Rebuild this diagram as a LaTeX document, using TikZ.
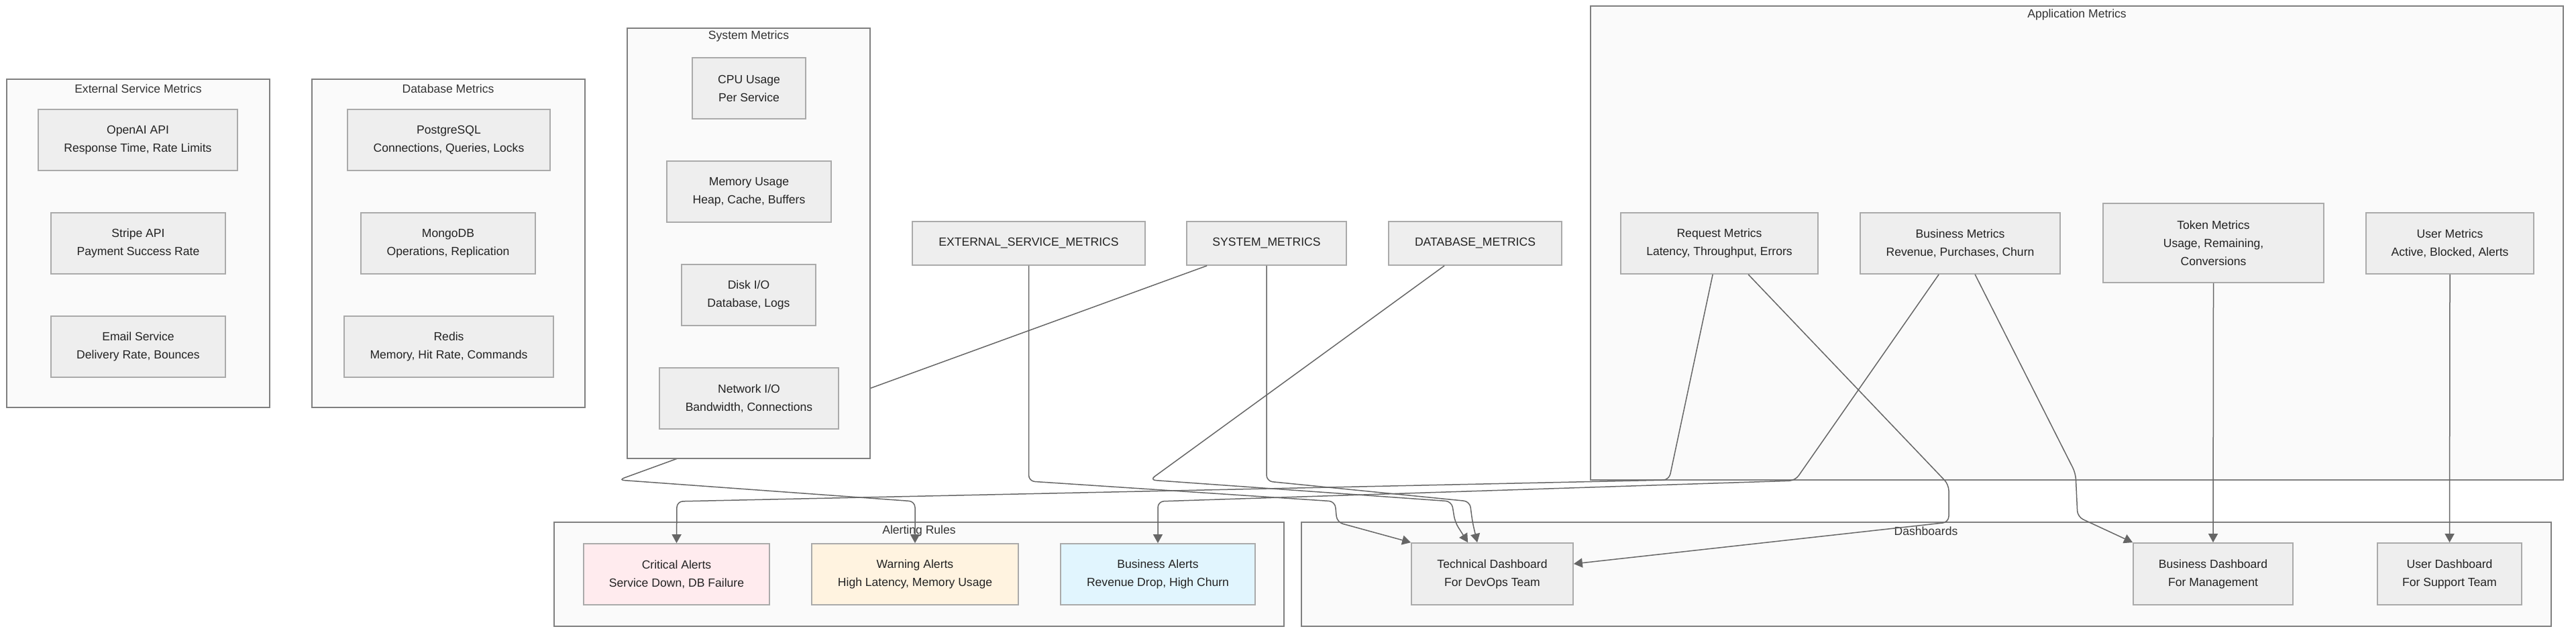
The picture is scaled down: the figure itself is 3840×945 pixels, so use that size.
\documentclass[tikz,border=0pt]{standalone}
\usepackage{fontspec}
\setmainfont{Liberation Sans}
\usetikzlibrary{arrows.meta,calc}
\definecolor{nodefill}{HTML}{EEEEEE}
\definecolor{nodeline}{HTML}{AAAAAA}
\definecolor{clfill}{HTML}{FAFAFA}
\definecolor{clline}{HTML}{7F7F7F}
\definecolor{edgec}{HTML}{666666}
\definecolor{txt}{HTML}{222222}
\definecolor{ttltxt}{HTML}{333333}
\definecolor{critfill}{HTML}{FFEBEE}
\definecolor{warnfill}{HTML}{FFF3E0}
\definecolor{busfill}{HTML}{E1F5FE}
\newcommand\bx[7]{\node[#6, minimum width={(#4-#2)*0.2mm}, minimum height={(#5-#3)*0.2mm}] (#1) at ({(#2+#4)/2},{(#3+#5)/2}) {#7};}
\begin{document}
\begin{tikzpicture}[x=0.2mm,y=-0.2mm, font=\fontsize{10}{15.4}\selectfont,
 nd/.style={draw=nodeline, fill=nodefill, line width=0.35mm, align=center, text=txt, inner sep=0pt},
 cl/.style={draw=clline, fill=clfill, line width=0.35mm, inner sep=0pt},
 ttl/.style={text=ttltxt, inner sep=0pt},
 edge/.style={draw=edgec, line width=0.3mm, rounded corners=1.8mm},
 arr/.style={-{Triangle[length=2.6mm,width=2.8mm]}, fill=none}]
\fill[white] (0,0) rectangle (3840,945);
\useasboundingbox (0,0) rectangle (3840,945);

% clusters (except System Metrics)
\bx{cExt}{10}{118}{402}{607}{cl}{}
\node[ttl] (tExt) at (206,132) {External Service Metrics};
\bx{cDb}{465}{118}{872}{607}{cl}{}
\node[ttl] (tDb) at (668,132) {Database Metrics};
\bx{cApp}{2371}{9}{3821}{715}{cl}{}
\node[ttl] (tApp) at (3096,22) {Application Metrics};
\bx{cAlert}{826}{778}{1914}{933}{cl}{}
\node[ttl] (tAlert) at (1370,791) {Alerting Rules};
\bx{cDash}{1940}{778}{3803}{933}{cl}{}
\node[ttl] (tDash) at (2871,791) {Dashboards};

% external services
\bx{openai}{57}{163}{354}{254}{nd}{OpenAI API\\Response Time, Rate Limits}
\bx{stripe}{76}{317}{336}{408}{nd}{Stripe API\\Payment Success Rate}
\bx{email}{76}{471}{336}{562}{nd}{Email Service\\Delivery Rate, Bounces}
% databases
\bx{pg}{518}{163}{820}{254}{nd}{PostgreSQL\\Connections, Queries, Locks}
\bx{mongo}{538}{317}{798}{408}{nd}{MongoDB\\Operations, Replication}
\bx{redis}{513}{471}{825}{562}{nd}{Redis\\Memory, Hit Rate, Commands}
% aggregate nodes
\bx{extm}{1360}{330}{1707}{395}{nd}{EXTERNAL\_SERVICE\_METRICS}
\bx{sysm}{1769}{330}{2007}{395}{nd}{SYSTEM\_METRICS}
\bx{dbm}{2070}{330}{2328}{395}{nd}{DATABASE\_METRICS}
% application
\bx{reqm}{2416}{317}{2710}{408}{nd}{Request Metrics\\Latency, Throughput, Errors}
\bx{busm}{2773}{317}{3071}{408}{nd}{Business Metrics\\Revenue, Purchases, Churn}
\bx{tokm}{3135}{303}{3464}{421}{nd}{Token Metrics\\Usage, Remaining,\\Conversions}
\bx{userm}{3527}{317}{3777}{408}{nd}{User Metrics\\Active, Blocked, Alerts}
% alerts
\bx{crit}{870}{810}{1147}{901}{nd,fill=critfill}{Critical Alerts\\Service Down, DB Failure}
\bx{warn}{1210}{810}{1518}{901}{nd,fill=warnfill}{Warning Alerts\\High Latency, Memory Usage}
\bx{balert}{1581}{810}{1871}{901}{nd,fill=busfill}{Business Alerts\\Revenue Drop, High Churn}
% dashboards
\bx{tdash}{2104}{809}{2345}{901}{nd}{Technical Dashboard\\For DevOps Team}
\bx{bdash}{3180}{809}{3418}{901}{nd}{Business Dashboard\\For Management}
\bx{udash}{3544}{809}{3759}{901}{nd}{User Dashboard\\For Support Team}

% edge passing beneath the System Metrics cluster
\draw[edge,arr] ($(sysm.south west)+(31,0)$) -- (922,715) -- (1364,747) -- (warn.north);

% System Metrics cluster
\bx{cSys}{935}{42}{1297}{683}{cl}{}
\node[ttl] (tSys) at (1116,54) {System Metrics};
\bx{cpu}{1032}{86}{1201}{177}{nd}{CPU Usage\\Per Service}
\bx{mem}{994}{240}{1239}{331}{nd}{Memory Usage\\Heap, Cache, Buffers}
\bx{disk}{1016}{394}{1216}{485}{nd}{Disk I/O\\Database, Logs}
\bx{net}{983}{548}{1250}{639}{nd}{Network I/O\\Bandwidth, Connections}

% remaining edges
\draw[edge,arr] (extm.south) -- ++(0,321) -- (1990,747) -- (1993,778) -- (tdash.north west);
\draw[edge,arr] (sysm.south) -- ++(0,321) -- (2191,747) -- (2195,778) -- ($(tdash.north west)+(99,0)$);
\draw[edge,arr] ($(dbm.south west)+(84,0)$) -- (1714,715) -- (2164,747) -- (2169,778) -- ($(tdash.north west)+(85,0)$);
\draw[edge,arr] ($(reqm.south west)+(138,0)$) -- (2488,715) -- (1009,747) -- (crit.north);
\draw[edge,arr] ($(busm.south west)+(118,0)$) -- (2676,716) -- (1726,747) -- (balert.north);
\draw[edge,arr] ($(reqm.south west)+(191,0)$) -- (2905,722) -- (2905,778) -- ($(tdash.east)+(0,-15)$);
\draw[edge,arr] ($(busm.south west)+(172,0)$) -- (3094,705) -- (3097,770) -- (bdash.north west);
\draw[edge,arr] (tokm.south) -- (bdash.north);
\draw[edge,arr] (userm.south) -- (udash.north);
\end{tikzpicture}
\end{document}
